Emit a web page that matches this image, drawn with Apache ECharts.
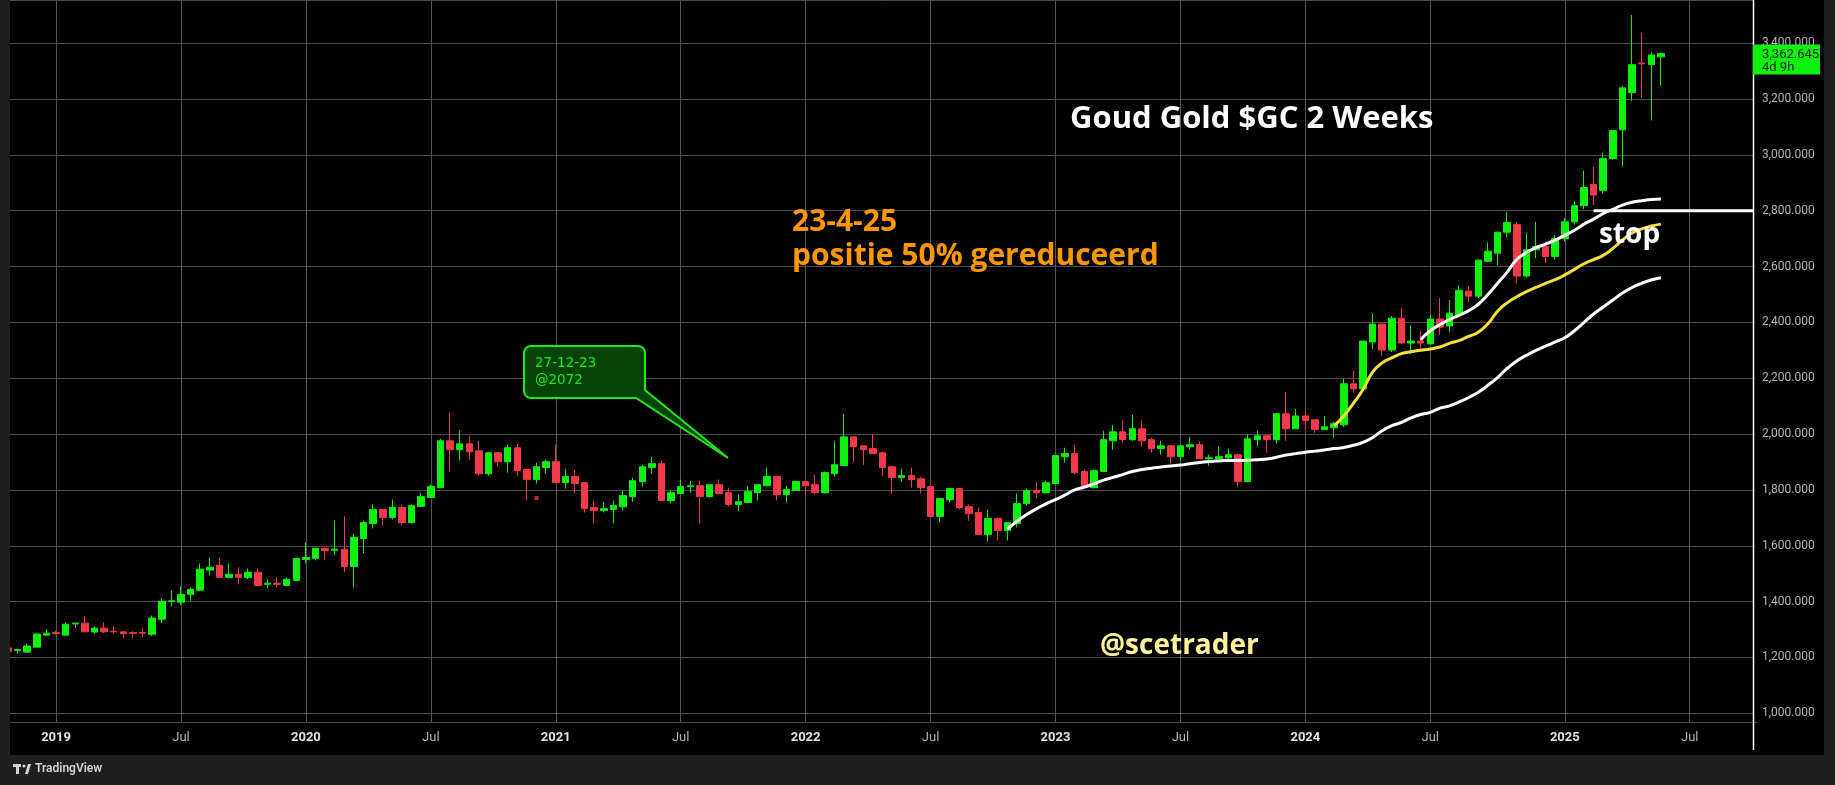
<!DOCTYPE html>
<html><head><meta charset="utf-8">
<script src="https://cdn.jsdelivr.net/npm/echarts@6/dist/echarts.min.js"></script>
<style>html,body{margin:0;padding:0;background:#000;}#c{width:1835px;height:785px;}</style>
</head><body><div id="c"></div><script>
// ---- data (2-week bars, GC continuous) ----
const startDate = '2018-10-29';
const barCount = 183; // categories incl. empty future bars
const tickLabels = {5:'2019',18:'Jul',31:'2020',44:'Jul',57:'2021',70:'Jul',83:'2022',96:'Jul',109:'2023',122:'Jul',135:'2024',148:'Jul',162:'2025',175:'Jul'};
const opens = [1234,1225,1219,1237,1280,1289,1280,1320,1323,1291,
1305,1294,1292,1289,1289,1283,1337,1400,1398,1426,
1441,1513,1530,1487,1498,1487,1505,1462,1466,1458,
1476,1551,1555,1591,1584,1587,1526,1626,1680,1730,
1701,1737,1683,1741,1773,1808,1976,1944,1965,1940,
1858,1933,1901,1951,1873,1837,1880,1901,1826,1848,
1826,1737,1726,1730,1740,1776,1830,1880,1894,1762,
1787,1812,1815,1776,1819,1790,1748,1755,1790,1815,
1848,1783,1798,1830,1819,1790,1858,1887,1990,1958,
1948,1933,1883,1844,1851,1840,1812,1705,1765,1805,
1740,1719,1640,1698,1655,1680,1751,1798,1790,1823,
1919,1930,1866,1808,1866,1976,2008,1980,2019,1980,
1948,1958,1919,1955,1962,1912,1912,1915,1926,1830,
1980,1994,1980,2073,2019,2065,2051,2016,2023,2033,
2180,2162,2330,2394,2301,2415,2326,2333,2323,2412,
2387,2427,2512,2494,2619,2648,2723,2750,2566,2660,
2672,2636,2700,2760,2818,2894,2873,2987,3090,3223,
3329,3323,3351];
const closes = [1221,1228,1241,1284,1287,1286,1319,1323,1292,1305,
1292,1292,1285,1287,1287,1341,1401,1403,1426,1444,
1516,1523,1487,1498,1487,1505,1458,1466,1462,1480,
1555,1558,1591,1583,1588,1526,1630,1683,1730,1701,
1737,1683,1744,1776,1812,1976,1944,1965,1937,1858,
1933,1901,1951,1869,1837,1883,1901,1826,1848,1823,
1733,1726,1733,1744,1780,1833,1883,1894,1762,1790,
1812,1815,1776,1819,1787,1748,1758,1794,1819,1848,
1783,1801,1830,1815,1790,1862,1890,1990,1955,1944,
1930,1880,1844,1851,1837,1808,1705,1769,1805,1737,
1715,1640,1698,1655,1683,1751,1798,1790,1826,1923,
1930,1862,1808,1869,1980,2008,1980,2019,1976,1948,
1958,1919,1958,1962,1912,1915,1919,1926,1830,1983,
1994,1980,2073,2019,2065,2048,2016,2026,2037,2180,
2162,2333,2394,2301,2415,2326,2333,2326,2412,2383,
2433,2515,2494,2623,2655,2723,2758,2566,2660,2672,
2636,2700,2760,2818,2883,2856,2987,3087,3240,3323,
3326,3358,3362.645];
const lows = [1215,1214,1219,1237,1279,1281,1280,1306,1291,1285,
1288,1285,1270,1270,1273,1277,1323,1383,1388,1401,
1437,1494,1487,1483,1462,1480,1458,1448,1451,1458,
1476,1537,1548,1548,1566,1505,1451,1573,1662,1673,
1694,1673,1680,1741,1773,1808,1865,1905,1908,1851,
1851,1883,1862,1851,1765,1823,1858,1826,1805,1787,
1719,1680,1719,1680,1726,1758,1812,1858,1762,1751,
1787,1790,1680,1773,1783,1740,1723,1751,1762,1815,
1762,1755,1798,1783,1783,1787,1848,1887,1898,1890,
1930,1851,1787,1830,1808,1787,1705,1683,1755,1730,
1690,1640,1615,1619,1619,1666,1745,1769,1787,1823,
1898,1855,1808,1805,1866,1944,1969,1976,1955,1933,
1926,1894,1905,1944,1912,1887,1912,1901,1812,1830,
1955,1933,1966,1976,2019,2016,2005,2016,1987,2026,
2148,2162,2305,2280,2294,2323,2287,2294,2323,2355,
2365,2426,2473,2487,2615,2605,2705,2540,2560,2630,
2612,2625,2690,2750,2805,2820,2862,2983,2958,3194,
3205,3123,3248];
const highs = [1236,1230,1250,1286,1301,1296,1326,1324,1348,1312,
1326,1312,1294,1294,1305,1350,1412,1440,1455,1451,
1537,1558,1558,1537,1523,1519,1519,1480,1487,1487,
1557,1612,1593,1594,1690,1705,1644,1690,1748,1730,
1766,1748,1748,1790,1819,1983,2076,2015,1994,1976,
1934,1934,1962,1965,1876,1898,1908,1962,1876,1873,
1830,1762,1758,1762,1798,1844,1890,1919,1905,1798,
1837,1833,1833,1820,1837,1808,1783,1815,1820,1880,
1851,1815,1833,1831,1855,1866,1976,2073,1991,1959,
2001,1937,1887,1876,1880,1848,1813,1770,1808,1806,
1748,1737,1730,1701,1684,1787,1805,1826,1833,1924,
1951,1962,1873,1873,2012,2033,2051,2069,2051,1987,
1976,1962,1959,1990,1973,1926,1955,1948,1930,1998,
2012,1995,2076,2151,2090,2080,2052,2065,2044,2198,
2226,2334,2433,2395,2423,2451,2390,2369,2426,2487,
2480,2533,2530,2626,2687,2725,2795,2760,2720,2760,
2690,2712,2775,2835,2944,2958,3008,3088,3248,3501,
3437,3369,3366];
// moving-average style lines
const maSlowStart = 104;
const maSlow = [1660,1688,1712,1732,1750,1765,1782,1800,1810,1822,
1835,1845,1855,1866,1873,1878,1882,1886,1889,1894,
1898,1902,1904,1905,1905,1906,1908,1911,1917,1925,
1930,1935,1939,1943,1948,1952,1960,1970,1988,2012,
2030,2042,2058,2070,2078,2093,2101,2115,2131,2150,
2175,2202,2235,2262,2282,2300,2315,2330,2345,2370,
2400,2430,2455,2480,2505,2525,2540,2552,2560];
const maYellowStart = 138;
const maYellow = [2030,2065,2110,2160,2222,2255,2273,2288,2295,2300,
2305,2312,2325,2335,2350,2365,2395,2440,2470,2492,
2510,2525,2540,2553,2570,2590,2610,2625,2640,2665,
2695,2720,2735,2745,2752];
const maFastStart = 147;
const maFast = [2338,2370,2392,2410,2425,2442,2465,2500,2540,2580,
2625,2650,2668,2680,2695,2712,2730,2752,2770,2790,
2805,2820,2830,2836,2840,2842];
const stopLevel = 2800, stopFrom = 165, stopTo = 182;
const markerPoint = [55, 1771];
const lastPriceText = ['3,362.645', '4d 9h'];

// ---- build ----
const cats = [];
{ const d0 = new Date(startDate + 'T00:00:00Z');
  for (let i = 0; i < barCount; i++) { const d = new Date(d0.getTime() + i*14*86400000); cats.push(d.toISOString().slice(0,10)); } }
const candle = opens.map((o,i)=>[o, closes[i], lows[i], highs[i]]);
function pad(start, arr){ const out = new Array(barCount).fill(null); arr.forEach((v,i)=>{out[start+i]=v;}); return out; }
const stopData = new Array(barCount).fill(null); for (let i=stopFrom;i<=stopTo;i++) stopData[i]=stopLevel;

// callout outline (rounded box with a tail)
function arcPts(cx, cy, r, a0, a1){ const p=[]; for(let k=0;k<=6;k++){const a=a0+(a1-a0)*k/6; p.push([cx+r*Math.cos(a), cy+r*Math.sin(a)]);} return p; }
function calloutPts(x0,y0,x1,y1,r,tail){
  let p=[];
  p = p.concat(arcPts(x0+r,y0+r,r,Math.PI,1.5*Math.PI));
  p = p.concat(arcPts(x1-r,y0+r,r,1.5*Math.PI,2*Math.PI));
  p.push([x1, tail.a]); p.push([tail.tx, tail.ty]); p.push([tail.b, y1]);
  p = p.concat(arcPts(x0+r,y1-r,r,0.5*Math.PI,Math.PI));
  return p;
}

const GREEN='#0ef20e', RED='#f2394a';
const chart = echarts.init(document.getElementById('c'), null, {renderer:'canvas'});
const isTick = (i)=> tickLabels[i] !== undefined;
chart.setOption({
  backgroundColor:'#000',
  animation:false,
  grid:{left:8, right:78, top:-2, bottom:63},
  xAxis:{type:'category', data:cats, boundaryGap:false,
    axisLine:{show:true, lineStyle:{color:'#4a4a4a', width:1}},
    axisTick:{show:false},
    axisLabel:{interval:(i)=>isTick(i), margin:9,
      formatter:(v,i)=>{const t=tickLabels[i]; if(!t) return ''; return t==='Jul' ? '{m|Jul}' : '{y|'+t+'}';},
      rich:{y:{color:'#e0e3eb', fontSize:13, fontWeight:'bold', fontFamily:'Roboto'}, m:{color:'#b2b5be', fontSize:13, fontFamily:'Roboto'}}},
    splitLine:{show:true, interval:(i)=>isTick(i), lineStyle:{color:'#555', width:1}}},
  yAxis:{type:'value', position:'right', min:968.9, max:3554.6, splitNumber:13, scale:true,
    axisLine:{show:false}, axisTick:{show:false},
    axisLabel:{showMinLabel:false, showMaxLabel:false, margin:5, color:'#b2b5be', fontSize:12, fontFamily:'Roboto',
      formatter:(v)=>v.toLocaleString('en-US',{minimumFractionDigits:3, maximumFractionDigits:3})},
    splitLine:{lineStyle:{color:'#4e4e4e', width:1}}},
  series:[
    {type:'candlestick', name:'GC', data:candle, barWidth:7, z:2,
      itemStyle:{color:GREEN, color0:RED, borderColor:GREEN, borderColor0:RED, borderWidth:1}},
    {type:'line', name:'slow', data:pad(maSlowStart, maSlow), symbol:'none', smooth:true, z:3, lineStyle:{color:'#ffffff', width:3}},
    {type:'line', name:'yellow', data:pad(maYellowStart, maYellow), symbol:'none', smooth:true, z:3, lineStyle:{color:'#f7e03a', width:3}},
    {type:'line', name:'fast', data:pad(maFastStart, maFast), symbol:'none', smooth:true, z:3, lineStyle:{color:'#ffffff', width:3}},
    {type:'line', name:'stop', data:stopData, symbol:'none', z:4, lineStyle:{color:'#ffffff', width:3}},
    {type:'scatter', name:'mark', data:[markerPoint], symbol:'rect', symbolSize:4, itemStyle:{color:RED}, z:3}
  ]
});

const py = chart.convertToPixel({yAxisIndex:0}, closes[closes.length-1]);
chart.setOption({graphic:[
  {type:'rect', z:100, shape:{x:1753.5, y:0, width:5, height:722}, style:{fill:'#000'}},
  {type:'rect', z:100, shape:{x:0, y:0, width:10, height:755}, style:{fill:'#1f1f1f'}},
  {type:'rect', z:100, shape:{x:1824, y:0, width:11, height:755}, style:{fill:'#1f1f1f'}},
  {type:'rect', z:100, shape:{x:0, y:755, width:1835, height:30}, style:{fill:'#1f1f1f'}},
  {type:'line', z:101, shape:{x1:1753.5, y1:0, x2:1753.5, y2:750}, style:{stroke:'#ffffff', lineWidth:1.5}},
  // last price label
  {type:'rect', z:102, shape:{x:1753, y:py-9, width:67, height:30}, style:{fill:GREEN}},
  {type:'text', z:103, style:{text:lastPriceText[0], x:1762, y:py+1, verticalAlign:'middle', font:'13px Roboto', fill:'#10200f'}},
  {type:'text', z:103, style:{text:lastPriceText[1], x:1762, y:py+14, verticalAlign:'middle', font:'13px Roboto', fill:'#10200f'}},
  // annotations
  {type:'text', z:110, style:{text:'Goud Gold $GC 2 Weeks', x:1070, y:119, verticalAlign:'middle', font:'bold 31px "Open Sans"', fill:'#ffffff'}},
  {type:'text', z:110, style:{text:'23-4-25', x:792, y:222, verticalAlign:'middle', font:'bold 30px "Open Sans"', fill:'#ff9800'}},
  {type:'text', z:110, style:{text:'positie 50% gereduceerd', x:792, y:256, verticalAlign:'middle', font:'bold 30px "Open Sans"', fill:'#ff9800'}},
  {type:'text', z:110, style:{text:'stop', x:1599, y:235, verticalAlign:'middle', font:'bold 28px "Open Sans"', fill:'#ffffff'}},
  {type:'text', z:110, style:{text:'@scetrader', x:1100, y:646, verticalAlign:'middle', font:'bold 28px "Open Sans"', fill:'#fff29a'}},
  // callout
  {type:'polygon', z:105, shape:{points:calloutPts(524,346,645,398,7,{a:390,tx:728,ty:458,b:636})},
    style:{fill:'#064406', stroke:'#1ee81e', lineWidth:2}},
  {type:'text', z:106, style:{text:'27-12-23', x:535, y:363, verticalAlign:'middle', font:'13.5px "DejaVu Sans"', fill:'#1ee81e'}},
  {type:'text', z:106, style:{text:'@2072', x:535, y:380, verticalAlign:'middle', font:'13.5px "DejaVu Sans"', fill:'#1ee81e'}},
  // TradingView logo
  {type:'rect', z:110, shape:{x:13, y:764, width:8, height:3}, style:{fill:'#d1d4dc'}},
  {type:'rect', z:110, shape:{x:16, y:764, width:3, height:10}, style:{fill:'#d1d4dc'}},
  {type:'circle', z:110, shape:{cx:24, cy:766, r:1.6}, style:{fill:'#d1d4dc'}},
  {type:'polygon', z:110, shape:{points:[[25,774],[28,764],[31,764],[28,774]]}, style:{fill:'#d1d4dc'}},
  {type:'text', z:110, style:{text:'TradingView', x:35, y:769, verticalAlign:'middle', font:'600 12px Roboto', fill:'#d1d4dc'}}
]});
</script></body></html>
